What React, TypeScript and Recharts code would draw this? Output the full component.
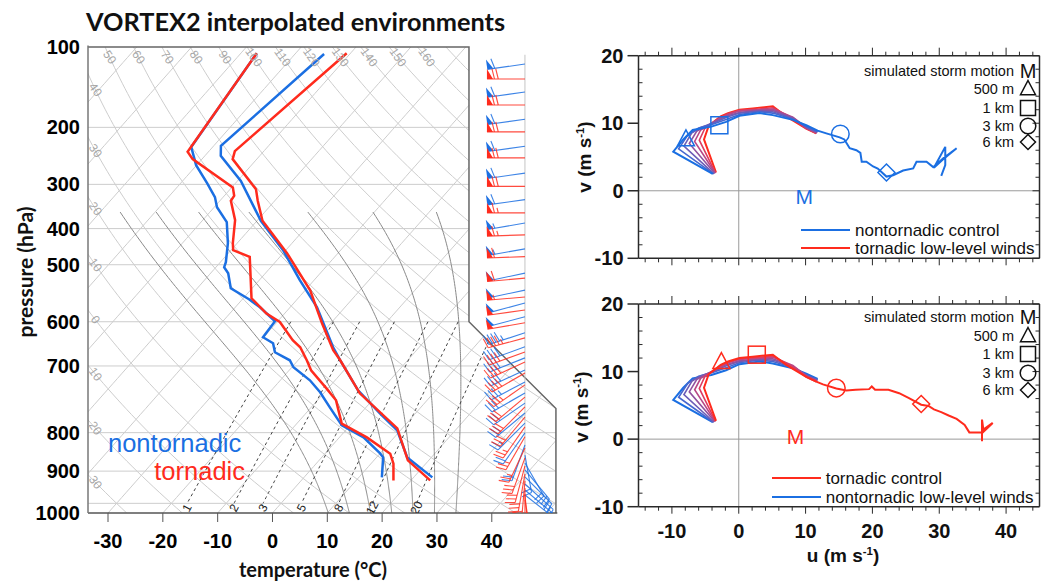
import React from 'react';
import { ComposedChart, Line, Scatter, XAxis, YAxis, ReferenceLine } from 'recharts';

// ===================== Skew-T sounding data (hPa, °C) =====================
const NT_T_P = [103.6, 164.6, 173.2, 196.5, 240.4, 278.8, 324.4, 371.8, 455.0, 485.9, 565.4, 635.0, 691.9, 793.0, 877.2];
const NT_T = [-64.7, -68.7, -67.1, -59.4, -49.3, -40.5, -32.6, -25.1, -15.7, -12.3, -4.2, 3.5, 9.4, 15.6, 23.4];
const NT_TD_P = [103.2, 165.7, 181.5, 198.7, 213.3, 224.4, 242.0, 269.1, 296.2, 303.8, 313.1, 337.8, 357.1, 371.8, 399.0, 432.6, 445.9, 466.7, 485.9, 503.4, 537.5, 571.1, 616.1, 674.7, 716.9, 777.2, 793.0, 877.2];
const NT_TD = [-77.1, -73.9, -70.1, -65.2, -61.5, -59.5, -55.3, -51.7, -49.0, -48.5, -46.8, -43.9, -38.8, -35.5, -30.5, -30.1, -27.3, -25.5, -21.5, -19.7, -14.6, -10.8, -6.6, -1.5, 4.4, 10.0, 11.2, 14.2];
const TOR_T_P = [103.2, 169.1, 176.1, 204.9, 217.3, 240.4, 283.0, 341.2, 403.1, 461.9, 485.9, 574.0, 685.0, 805.2, 890.7];
const TOR_T = [-60.7, -65.3, -64.4, -55.3, -53.1, -49.0, -39.3, -29.1, -21.6, -15.2, -12.3, -3.4, 9.1, 16.2, 23.5];
const TOR_TD_P = [103.2, 169.7, 176.1, 203.1, 211.9, 217.3, 239.6, 269.1, 278.8, 288.4, 355.3, 383.8, 400.5, 439.2, 455.0, 485.9, 511.1, 560.6, 594.7, 668.9, 716.9, 778.4, 818.7, 890.7];
const TOR_TD = [-77.1, -73.8, -71.7, -59.8, -58.2, -58.0, -54.1, -50.8, -49.6, -45.5, -38.5, -33.3, -29.5, -24.2, -21.7, -18.4, -16.0, -10.2, -6.6, -1.8, 5.0, 11.9, 14.1, 16.8];

// wind barbs: pressure (hPa), direction (deg, from), speed (kt)
const NT_BARB_P = [109, 125.5, 144, 165, 189, 216, 243, 277, 313, 341, 364, 390, 423, 454, 480, 510, 542, 573, 603, 634, 667, 701, 745, 784, 816, 845, 875, 907, 935, 959];
const NT_BARB_DIR = [262, 262, 262, 262, 262, 262, 260, 260, 258, 258, 255, 255, 252, 250, 248, 245, 242, 240, 235, 230, 225, 215, 200, 170, 150, 140, 135, 132, 130, 128];
const NT_BARB_SPD = [60, 60, 60, 60, 58, 58, 55, 55, 52, 50, 50, 48, 45, 42, 40, 38, 35, 32, 30, 28, 25, 22, 20, 18, 18, 20, 22, 22, 20, 18];
const TOR_BARB_P = [117.5, 134, 153.5, 175, 202, 231, 258, 288, 321, 353, 377, 402, 434, 466, 490, 518, 550, 585, 615, 647, 680, 715, 756, 795, 828, 862, 893, 925, 954, 983];
const TOR_BARB_DIR = [270, 270, 270, 270, 270, 270, 268, 268, 265, 265, 262, 260, 255, 250, 245, 240, 235, 230, 225, 220, 215, 210, 205, 200, 195, 190, 185, 180, 175, 170];
const TOR_BARB_SPD = [70, 70, 70, 70, 68, 65, 65, 62, 60, 55, 52, 50, 45, 42, 40, 38, 35, 32, 30, 28, 25, 25, 25, 28, 28, 30, 30, 28, 25, 22];

// diagram furniture
const T_TICKS = [-30, -20, -10, 0, 10, 20, 30, 40];
const P_TICK_AT = [100, 150, 200, 250, 300, 400, 500, 700, 850, 1050];
const P_TICK_LABELS = ['100', '200', '300', '400', '500', '600', '700', '800', '900', '1000'];
const P_GRID = [150, 200, 250, 300, 400, 500, 700, 850, 1000];
const ISOTHERMS = [-110, -100, -90, -80, -70, -60, -50, -40, -30, -20, -10, 0, 10, 20, 30, 40, 50];
const DRY_THETA = [-30, -20, -10, 0, 10, 20, 30, 40, 50, 60, 70, 80, 90, 100, 110, 120, 130, 140, 150, 160, 170, 180];
const DRY_TOP_LABELS = [50, 60, 70, 80, 90, 100, 110, 120, 130, 140, 150, 160];
const DRY_LEFT_LABELS = [40, 30, 20, 10, 0, -10, -20, -30];
const MOIST_THW = [8, 12, 16, 20, 24, 28, 32];
const MIX_W = [1, 2, 3, 5, 8, 12, 20];

// ===================== Hodograph data (m/s) =====================
const NT_LOW_U = [-3.9, -9.8, -8.3, -6.9, -4.1, -1.9, 0.1, 3.1, 5.1, 8.1, 10.1, 11.8];
const NT_LOW_V = [2.5, 5.8, 7.6, 9.0, 9.5, 10.2, 11.1, 11.5, 11.2, 10.5, 9.7, 8.9];
const NT_UP_U = [13.1, 15.1, 15.8, 16.6, 17.6, 18.2, 18.4, 19.1, 20.1, 20.8, 22.1, 23.1, 24.6, 26.1, 26.6, 28.1, 29.1, 30.6, 32.6, 30.5, 29.2, 30.9, 30.9, 30.3];
const NT_UP_V = [8.5, 7.9, 7.6, 6.3, 6.0, 5.6, 4.3, 4.3, 3.6, 3.3, 2.1, 2.3, 3.0, 3.3, 4.3, 4.3, 3.5, 4.8, 6.3, 4.6, 3.4, 6.5, 3.8, 2.2];
const TOR_LOW_U = [-3.4, -5.2, -4.5, -2.7, -1.6, 0.1, 2.1, 5.1, 7.1, 10.1, 11.6];
const TOR_LOW_V = [2.7, 7.6, 9.6, 11.0, 11.5, 12.0, 12.2, 12.5, 11.0, 9.2, 8.5];
const TOR_UP_U = [12.6, 14.6, 16.1, 17.5, 19.5, 19.9, 20.4, 22.4, 24.0, 25.4, 27.3, 28.4, 29.2, 30.3, 31.4, 32.6, 33.8, 34.5, 36.5, 38.0, 36.6, 36.4, 36.4];
const TOR_UP_V = [8.1, 7.5, 7.2, 7.3, 7.4, 7.8, 7.3, 7.3, 6.8, 6.1, 5.1, 4.9, 4.4, 4.0, 3.5, 3.0, 2.1, 1.0, 1.0, 2.4, 1.4, 2.9, -0.3];
const MIX1_U = [-3.8, -9.0, -7.6, -6.0, -3.8, -1.8, 0.1, 3.1, 5.1, 8.1, 10.4, 11.8];
const MIX1_V = [2.5, 6.2, 8.3, 9.3, 9.9, 10.6, 11.3, 11.7, 11.5, 10.6, 9.4, 8.8];
const MIX2_U = [-3.7, -8.2, -7.0, -5.6, -3.6, -1.8, 0.1, 3.1, 5.1, 8.1, 10.3, 11.8];
const MIX2_V = [2.5, 6.6, 8.6, 9.4, 10.1, 10.9, 11.5, 11.8, 11.7, 10.7, 9.3, 8.7];
const MIX3_U = [-3.6, -7.4, -6.3, -5.1, -3.3, -1.7, 0.1, 3.1, 5.1, 8.1, 10.2, 11.7];
const MIX3_V = [2.6, 7.0, 8.8, 9.5, 10.4, 11.1, 11.6, 11.9, 11.9, 10.8, 9.3, 8.6];
const MIX4_U = [-3.5, -6.6, -5.7, -4.8, -3.0, -1.6, 0.1, 3.1, 5.1, 8.1, 10.2, 11.7];
const MIX4_V = [2.6, 7.3, 9.0, 9.5, 10.6, 11.3, 11.8, 12.0, 12.1, 10.9, 9.3, 8.6];
const MIX5_U = [-3.5, -5.9, -5.1, -4.6, -2.9, -1.6, 0.1, 3.1, 5.1, 7.6, 10.1, 11.6];
const MIX5_V = [2.7, 7.5, 9.2, 9.6, 10.8, 11.4, 11.9, 12.1, 12.3, 11.0, 9.2, 8.5];
const NT_MARK_U = [-7.9, -2.9, 15.2, 22.1];
const NT_MARK_V = [7.6, 9.7, 8.4, 2.7];
const TOR_MARK_U = [-2.6, 2.7, 14.6, 27.3];
const TOR_MARK_V = [11.4, 12.5, 7.55, 5.2];
const MARK_LABELS = ['500 m', '1 km', '3 km', '6 km'];
const NT_STORM_U = [9.8];
const NT_STORM_V = [-0.9];
const TOR_STORM_U = [8.5];
const TOR_STORM_V = [0.35];
const U_TICKS = [-14, -12, -10, -8, -6, -4, -2, 0, 2, 4, 6, 8, 10, 12, 14, 16, 18, 20, 22, 24, 26, 28, 30, 32, 34, 36, 38, 40, 42, 44];
const V_TICKS = [-10, -8, -6, -4, -2, 0, 2, 4, 6, 8, 10, 12, 14, 16, 18, 20];

// ===================== styling / geometry =====================
const BLUE = '#1b6fe2';
const RED = '#ff2b1d';
const MIX_COLORS = ['#4767cf', '#6d5db7', '#92529f', '#b84887', '#dc3c62'];
const GRID = '#cdcdcd';
const FRAME = '#2a2a2a';
const FONT_TICK = "'Liberation Sans', Arial, sans-serif";
const FONT_TITLE = "Lato, 'Liberation Sans', sans-serif";
const MARK_KINDS = ['tri', 'sq', 'circ', 'dia'];

const SKEW = 32;
const P_TOP = 100;
const P_BOT = 1050;
const P_DOMAIN_TOP = 99.2;
const X_MIN = -33.65;
const X_DOMAIN_MAX = 51.95;
const X_FRAME_RIGHT = 51.7;
const X_FRAME_TOP = 35.84;
const NOTCH_P1 = 400;
const NOTCH_P2 = 620;
const BARB_X = 46.05;
const MOIST_TOP_P = 230;

const skewX = (T: number, p: number) => T + SKEW * Math.log(P_BOT / p);
const boundaryX = (p: number) => {
  if (p <= NOTCH_P1) return X_FRAME_TOP;
  if (p >= NOTCH_P2) return X_FRAME_RIGHT;
  const t = Math.log(p / NOTCH_P1) / Math.log(NOTCH_P2 / NOTCH_P1);
  return X_FRAME_TOP + t * (X_FRAME_RIGHT - X_FRAME_TOP);
};

function clipCurve(pts: { x: number; p: number }[]) {
  const out: any[] = [];
  let prevIn = false;
  pts.forEach((pt, i) => {
    const inside = pt.x <= boundaryX(pt.p);
    if (i > 0 && inside !== prevIn) {
      const a = pts[i - 1];
      const fa = a.x - boundaryX(a.p);
      const fb = pt.x - boundaryX(pt.p);
      const t = fa / (fa - fb);
      const lp = Math.log(a.p) + t * (Math.log(pt.p) - Math.log(a.p));
      out.push({ x: a.x + t * (pt.x - a.x), p: Math.exp(lp) });
      if (!inside) out.push({ x: null, p: null });
    }
    if (inside) out.push(pt);
    prevIn = inside;
  });
  return out;
}

const P_SAMPLES = (() => {
  const a: number[] = [];
  for (let i = 0; i <= 90; i++) a.push(P_TOP * Math.pow(P_BOT / P_TOP, i / 90));
  a.push(NOTCH_P1, NOTCH_P2, 1000);
  return a.sort((m, n) => m - n);
})();

const dryT = (th: number, p: number) => (th + 273.15) * Math.pow(p / 1000, 0.2857) - 273.15;
const esat = (Tc: number) => 6.112 * Math.exp((17.67 * Tc) / (Tc + 243.5));
const dTdp = (Tc: number, p: number) => {
  const T = Tc + 273.15;
  const e = esat(Tc);
  const r = (0.622 * e) / (p - e);
  return (287.04 * T + 2.501e6 * r) / (p * (1005.7 + (2.501e6 * 2.501e6 * r * 0.622) / (287.04 * T * T)));
};
const mixT = (w: number, p: number) => {
  const e = ((w / 1000) * p) / (0.622 + w / 1000);
  const l = Math.log(e / 6.112);
  return (243.5 * l) / (17.67 - l);
};

function moistCurve(thw: number) {
  const step = (T: number, p: number, dp: number) => {
    const k1 = dTdp(T, p);
    const k2 = dTdp(T + (k1 * dp) / 2, p + dp / 2);
    return T + k2 * dp;
  };
  const down: { T: number; p: number }[] = [];
  let T = thw;
  let p = 1000;
  while (p < P_BOT) {
    T = step(T, p, 5);
    p += 5;
    down.push({ T, p });
  }
  const up: { T: number; p: number }[] = [{ T: thw, p: 1000 }];
  T = thw;
  p = 1000;
  while (p > MOIST_TOP_P) {
    T = step(T, p, -5);
    p -= 5;
    up.push({ T, p });
  }
  return [...down.reverse(), ...up].map((d) => ({ x: skewX(d.T, d.p), p: d.p }));
}

const isothermLines = ISOTHERMS.map((T) => clipCurve(P_SAMPLES.map((p) => ({ x: skewX(T, p), p }))));
const dryLines = DRY_THETA.map((th) => clipCurve(P_SAMPLES.map((p) => ({ x: skewX(dryT(th, p), p), p }))));
const moistLines = MOIST_THW.map((thw) => clipCurve(moistCurve(thw)));
const mixLines = MIX_W.map((w) =>
  clipCurve(P_SAMPLES.filter((p) => p >= 400 && p <= 1000).map((p) => ({ x: skewX(mixT(w, p), p), p })))
);
const isobarLines = P_GRID.map((p) => [{ x: X_MIN - 2, p }, { x: boundaryX(p), p }]);
const frameLine = [
  { x: X_MIN, p: P_TOP },
  { x: X_FRAME_TOP, p: P_TOP },
  { x: X_FRAME_TOP, p: NOTCH_P1 },
  { x: X_FRAME_RIGHT, p: NOTCH_P2 },
  { x: X_FRAME_RIGHT, p: P_BOT },
];
const barbAxis = [{ x: BARB_X, p: 104 }, { x: BARB_X, p: 905 }];

const dryTopLabelData = DRY_TOP_LABELS.map((th) => ({ x: skewX(dryT(th, 105.3), 105.3), p: 105.3, label: String(th) }));
const dryLeftLabelData = DRY_LEFT_LABELS.map((th) => {
  let lo = Math.log(P_TOP);
  let hi = Math.log(P_BOT);
  const target = X_MIN + 1.35;
  for (let i = 0; i < 40; i++) {
    const mid = (lo + hi) / 2;
    const pm = Math.exp(mid);
    if (skewX(dryT(th, pm), pm) < target) lo = mid;
    else hi = mid;
  }
  const pp = Math.exp((lo + hi) / 2);
  return { x: target, p: pp, label: String(Math.abs(th)) };
});
const mixLabelData = MIX_W.map((w) => ({ x: skewX(mixT(w, 1000), 1000), p: 1023, label: String(w) }));

const profile = (ps: number[], ts: number[]) => ps.map((p, i) => ({ x: skewX(ts[i], p), p }));
const barbData = (ps: number[], dirs: number[], spds: number[]) => ps.map((p, i) => ({ x: BARB_X, p, dir: dirs[i], spd: spds[i] }));

function Barb(props: any) {
  const { cx, cy, payload, color } = props;
  if (cx == null || cy == null) return null;
  const L = 38;
  const F = 10;
  const W = 6;
  const G = 3.8;
  const r = (payload.dir * Math.PI) / 180;
  const dx = Math.sin(r);
  const dy = -Math.cos(r);
  const nx = -dy;
  const ny = dx;
  const tx = cx + dx * L;
  const ty = cy + dy * L;
  const at = (s: number) => [tx - dx * s, ty - dy * s];
  const parts: any[] = [];
  let spd = Math.round(payload.spd / 5) * 5;
  let s = 0;
  let k = 0;
  while (spd >= 50) {
    const [ax, ay] = at(s);
    const [bx, by] = at(s + W);
    parts.push(<polygon key={k++} points={`${ax},${ay} ${ax + nx * F},${ay + ny * F} ${bx},${by}`} stroke="none" />);
    s += W + 1.5;
    spd -= 50;
  }
  while (spd >= 10) {
    const [ax, ay] = at(s);
    parts.push(<line key={k++} x1={ax} y1={ay} x2={ax + nx * F + dx * 2.5} y2={ay + ny * F + dy * 2.5} />);
    s += G;
    spd -= 10;
  }
  if (spd >= 5) {
    if (s === 0) s = G;
    const [ax, ay] = at(s);
    parts.push(<line key={k++} x1={ax} y1={ay} x2={ax + (nx * F + dx * 2.5) * 0.5} y2={ay + (ny * F + dy * 2.5) * 0.5} />);
  }
  return (
    <g stroke={color} fill={color} strokeWidth={1.1} strokeOpacity={0.85}>
      <line x1={cx} y1={cy} x2={tx} y2={ty} />
      {parts}
    </g>
  );
}

const lineProps = { dot: false, activeDot: false, isAnimationActive: false, legendType: 'none' as const };

function SkewT() {
  return (
    <ComposedChart width={570} height={582} margin={{ top: 45.4, right: 12.7, bottom: 39, left: 8 }}>
      <XAxis
        dataKey="x"
        type="number"
        domain={[X_MIN, X_DOMAIN_MAX]}
        allowDataOverflow
        ticks={T_TICKS}
        interval={0}
        tickSize={9}
        tickMargin={12}
        height={30}
        axisLine={{ stroke: '#555', strokeWidth: 1.5 }}
        tickLine={{ stroke: '#555' }}
        tick={{ fill: '#000', fontSize: 20, fontWeight: 'bold', fontFamily: FONT_TICK }}
      />
      <YAxis
        dataKey="p"
        type="number"
        scale="log"
        domain={[P_DOMAIN_TOP, P_BOT]}
        reversed
        allowDataOverflow
        ticks={P_TICK_AT}
        interval={0}
        width={80}
        tickLine={false}
        axisLine={{ stroke: '#777', strokeWidth: 1.5 }}
        tickFormatter={(v: number) => P_TICK_LABELS[P_TICK_AT.indexOf(v)]}
        tick={{ fill: '#000', fontSize: 20, fontWeight: 'bold', fontFamily: FONT_TICK }}
      />
      {isobarLines.map((d, i) => (
        <Line key={'ib' + i} data={d} dataKey="p" stroke={GRID} strokeWidth={1} {...lineProps} />
      ))}
      {isothermLines.map((d, i) => (
        <Line key={'it' + i} data={d} dataKey="p" stroke={GRID} strokeWidth={1} {...lineProps} />
      ))}
      {dryLines.map((d, i) => (
        <Line key={'dr' + i} data={d} dataKey="p" stroke={GRID} strokeWidth={1} {...lineProps} />
      ))}
      {moistLines.map((d, i) => (
        <Line key={'mo' + i} data={d} dataKey="p" stroke="#8a8a8a" strokeWidth={1} {...lineProps} />
      ))}
      {mixLines.map((d, i) => (
        <Line key={'mx' + i} data={d} dataKey="p" stroke="#444" strokeWidth={1} strokeDasharray="3 3" {...lineProps} />
      ))}
      <Line data={frameLine} dataKey="p" stroke="#666" strokeWidth={1.5} {...lineProps} />
      <Line data={barbAxis} dataKey="p" stroke="#c4c4c4" strokeWidth={1} {...lineProps} />
      <Line data={profile(NT_TD_P, NT_TD)} dataKey="p" stroke={BLUE} strokeWidth={2.5} {...lineProps} />
      <Line data={profile(TOR_TD_P, TOR_TD)} dataKey="p" stroke={RED} strokeWidth={2.5} {...lineProps} />
      <Line data={profile(NT_T_P, NT_T)} dataKey="p" stroke={BLUE} strokeWidth={2.5} {...lineProps} />
      <Line data={profile(TOR_T_P, TOR_T)} dataKey="p" stroke={RED} strokeWidth={2.5} {...lineProps} />
      <Scatter
        data={[...dryTopLabelData, ...dryLeftLabelData]}
        isAnimationActive={false}
        shape={(pr: any) => (
          <text
            x={pr.cx}
            y={pr.cy}
            transform={`rotate(55 ${pr.cx} ${pr.cy})`}
            textAnchor="middle"
            dominantBaseline="central"
            fontSize={12}
            fill="#a8a8a8"
            fontFamily={FONT_TICK}
          >
            {pr.payload.label}
          </text>
        )}
      />
      <Scatter
        data={mixLabelData}
        isAnimationActive={false}
        shape={(pr: any) => (
          <text
            x={pr.cx}
            y={pr.cy}
            transform={`rotate(-62 ${pr.cx} ${pr.cy})`}
            textAnchor="middle"
            dominantBaseline="central"
            fontSize={12}
            fill="#222"
            fontFamily={FONT_TICK}
          >
            {pr.payload.label}
          </text>
        )}
      />
      <Scatter data={barbData(NT_BARB_P, NT_BARB_DIR, NT_BARB_SPD)} isAnimationActive={false} shape={(pr: any) => <Barb {...pr} color={BLUE} />} />
      <Scatter data={barbData(TOR_BARB_P, TOR_BARB_DIR, TOR_BARB_SPD)} isAnimationActive={false} shape={(pr: any) => <Barb {...pr} color={RED} />} />
    </ComposedChart>
  );
}

// ===================== Hodographs =====================
const zip = (us: number[], vs: number[]) => us.map((u, i) => ({ u, v: vs[i] }));
const MIX_SETS = [zip(MIX1_U, MIX1_V), zip(MIX2_U, MIX2_V), zip(MIX3_U, MIX3_V), zip(MIX4_U, MIX4_V), zip(MIX5_U, MIX5_V)];
const marks = (us: number[], vs: number[]) => us.map((u, i) => ({ u, v: vs[i], kind: MARK_KINDS[i] }));

function MarkShape({ cx, cy, kind, color, size = 8.5 }: any) {
  const common = { fill: 'none', stroke: color, strokeWidth: 1.5 };
  if (kind === 'tri') return <path d={`M${cx},${cy - size - 1} L${cx + size},${cy + size * 0.75} L${cx - size},${cy + size * 0.75} Z`} {...common} />;
  if (kind === 'sq') return <rect x={cx - size} y={cy - size} width={size * 2} height={size * 2} {...common} />;
  if (kind === 'circ') return <circle cx={cx} cy={cy} r={size + 0.3} {...common} />;
  return <path d={`M${cx},${cy - size} L${cx + size},${cy} L${cx},${cy + size} L${cx - size},${cy} Z`} {...common} />;
}

const tickText = { fontFamily: FONT_TICK, fontWeight: 'bold' as const, fontSize: 20, fill: '#111' };

const leftTick = (pr: any) => {
  const { x, y, payload } = pr;
  const major = payload.value % 10 === 0;
  return (
    <g>
      {major ? (
        <line x1={x - 11} x2={x} y1={y} y2={y} stroke={FRAME} strokeWidth={1.5} />
      ) : (
        <line x1={x} x2={x + 4} y1={y} y2={y} stroke={FRAME} strokeWidth={1} />
      )}
      {major && (
        <text x={x - 15} y={y} textAnchor="end" dominantBaseline="central" {...tickText}>
          {payload.value}
        </text>
      )}
    </g>
  );
};
const rightTick = (pr: any) => {
  const { x, y, payload } = pr;
  const major = payload.value % 10 === 0;
  return <line x1={x - (major ? 7 : 4)} x2={x} y1={y} y2={y} stroke={FRAME} strokeWidth={1} />;
};
const topTick = (pr: any) => {
  const { x, y, payload } = pr;
  const major = payload.value % 10 === 0;
  return <line x1={x} x2={x} y1={y} y2={y - (major ? 8 : 4)} stroke={FRAME} strokeWidth={1} />;
};
const bottomTick = (showLabels: boolean) => (pr: any) => {
  const { x, y, payload } = pr;
  const major = payload.value % 10 === 0;
  return (
    <g>
      <line x1={x} x2={x} y1={y} y2={y + (major ? 7 : 4)} stroke={FRAME} strokeWidth={1} />
      {showLabels && major && (
        <text x={x} y={y + 24} textAnchor="middle" dominantBaseline="central" {...tickText}>
          {payload.value}
        </text>
      )}
    </g>
  );
};

function Hodo({ height, mTop, mBottom, showU, lines, markData, markColor, stormU, stormV, stormColor }: any) {
  const axisLine = { stroke: FRAME, strokeWidth: 1.5 };
  return (
    <ComposedChart width={486} height={height} margin={{ top: mTop - 1, right: 5.5, bottom: mBottom - 1, left: 8.5 }}>
      <XAxis dataKey="u" type="number" domain={[-15, 45]} allowDataOverflow ticks={U_TICKS} interval={0} tickSize={0} tickMargin={0} height={1} axisLine={axisLine} tickLine={false} tick={bottomTick(showU)} />
      <XAxis xAxisId="top" orientation="top" dataKey="u" type="number" domain={[-15, 45]} allowDataOverflow ticks={U_TICKS} interval={0} tickSize={0} tickMargin={0} height={1} axisLine={axisLine} tickLine={false} tick={topTick} />
      <YAxis dataKey="v" type="number" domain={[-10, 20]} allowDataOverflow ticks={V_TICKS} interval={0} tickSize={0} tickMargin={0} width={70} axisLine={axisLine} tickLine={false} tick={leftTick} />
      <YAxis yAxisId="right" orientation="right" dataKey="v" type="number" domain={[-10, 20]} allowDataOverflow ticks={V_TICKS} interval={0} tickSize={0} tickMargin={0} width={1} axisLine={axisLine} tickLine={false} tick={rightTick} />
      <ReferenceLine x={0} stroke="#9a9a9a" strokeWidth={1} />
      <ReferenceLine y={0} stroke="#9a9a9a" strokeWidth={1} />
      {lines.map((l: any, i: number) => (
        <Line key={'h' + i} data={l.data} dataKey="v" stroke={l.color} strokeWidth={l.width} {...lineProps} />
      ))}
      <Scatter
        data={markData}
        isAnimationActive={false}
        shape={(pr: any) => <MarkShape cx={pr.cx} cy={pr.cy} kind={pr.payload.kind} color={markColor} />}
      />
      <Scatter
        data={zip(stormU, stormV)}
        isAnimationActive={false}
        shape={(pr: any) => (
          <text x={pr.cx} y={pr.cy} textAnchor="middle" dominantBaseline="central" fontFamily={FONT_TICK} fontSize={21} fill={stormColor}>
            M
          </text>
        )}
      />
    </ComposedChart>
  );
}

// ===================== HTML text helpers =====================
function T({ x, y, anchor = 'start', rotate = 0, style = {}, children }: any) {
  const tx = anchor === 'middle' ? '-50%' : anchor === 'end' ? '-100%' : '0';
  return (
    <div
      style={{
        position: 'absolute',
        left: x,
        top: y,
        transform: `translate(${tx}, -50%)${rotate ? ` rotate(${rotate}deg)` : ''}`,
        whiteSpace: 'nowrap',
        lineHeight: 1,
        ...style,
      }}
    >
      {children}
    </div>
  );
}

function LegendSymbol({ kind }: any) {
  if (kind === 'M') return <span style={{ fontFamily: FONT_TICK, fontSize: 20, color: '#111' }}>M</span>;
  return (
    <svg width={20} height={20} style={{ display: 'block' }}>
      <MarkShape cx={10} cy={10} kind={kind} color="#111" size={7.5} />
    </svg>
  );
}

function HodoLegend({ ys }: any) {
  const labels = ['simulated storm motion', ...MARK_LABELS];
  const kinds = ['M', ...MARK_KINDS];
  return (
    <>
      {labels.map((lab, i) => (
        <React.Fragment key={lab}>
          <T x={1014} y={ys[i]} anchor="end" style={{ fontFamily: FONT_TICK, fontSize: 14.5, color: '#111' }}>
            {lab}
          </T>
          <T x={1028} y={ys[i]} anchor="middle">
            <LegendSymbol kind={kinds[i]} />
          </T>
        </React.Fragment>
      ))}
    </>
  );
}

function LineLegend({ x1, x2, rows }: any) {
  return (
    <>
      {rows.map((r: any) => (
        <React.Fragment key={r.text}>
          <div style={{ position: 'absolute', left: x1, top: r.y - 1, width: x2 - x1, height: 2, background: r.color }} />
          <T x={x2 + 5} y={r.y} style={{ fontFamily: FONT_TICK, fontSize: 17, color: '#111' }}>
            {r.text}
          </T>
        </React.Fragment>
      ))}
    </>
  );
}

const unitLabel = (c: string) => (
  <span>
    {c} (m s<sup style={{ fontSize: '0.6em', verticalAlign: '0.55em' }}>-1</sup>)
  </span>
);

export default function App() {
  const ntFull = [...zip(NT_LOW_U, NT_LOW_V), ...zip(NT_UP_U, NT_UP_V)];
  const torFull = [...zip(TOR_LOW_U, TOR_LOW_V), ...zip(TOR_UP_U, TOR_UP_V)];
  const topLines = [
    { data: zip(TOR_LOW_U, TOR_LOW_V), color: RED, width: 2 },
    ...MIX_SETS.map((d, i) => ({ data: d, color: MIX_COLORS[i], width: 1.6 })).reverse(),
    { data: ntFull, color: BLUE, width: 2 },
  ];
  const bottomLines = [
    { data: zip(NT_LOW_U, NT_LOW_V), color: BLUE, width: 2 },
    ...MIX_SETS.map((d, i) => ({ data: d, color: MIX_COLORS[i], width: 1.6 })),
    { data: torFull, color: RED, width: 2 },
  ];
  const axisTitle = { fontFamily: FONT_TICK, fontWeight: 'bold' as const, fontSize: 19, color: '#111' };
  return (
    <div style={{ position: 'absolute', left: 0, top: 0, width: 1046, height: 582, background: '#fff', overflow: 'hidden' }}>
      <div style={{ position: 'absolute', left: 0, top: 0 }}>
        <SkewT />
      </div>
      <div style={{ position: 'absolute', left: 560, top: 0 }}>
        <Hodo height={275} mTop={55.7} mBottom={16.7} showU={false} lines={topLines} markData={marks(NT_MARK_U, NT_MARK_V)} markColor={BLUE} stormU={NT_STORM_U} stormV={NT_STORM_V} stormColor={BLUE} />
      </div>
      <div style={{ position: 'absolute', left: 560, top: 280 }}>
        <Hodo height={302} mTop={24} mBottom={75.3} showU={true} lines={bottomLines} markData={marks(TOR_MARK_U, TOR_MARK_V)} markColor={RED} stormU={TOR_STORM_U} stormV={TOR_STORM_V} stormColor={RED} />
      </div>

      <T x={86} y={22} style={{ fontFamily: FONT_TITLE, fontWeight: 'bold', fontSize: 25.3, color: '#111' }}>
        VORTEX2 interpolated environments
      </T>
      <T x={24} y={272} anchor="middle" rotate={-90} style={{ fontFamily: FONT_TITLE, fontWeight: 'bold', fontSize: 21, color: '#111' }}>
        pressure (hPa)
      </T>
      <T x={313} y={569} anchor="middle" style={{ fontFamily: FONT_TITLE, fontWeight: 'bold', fontSize: 20, color: '#111' }}>
        temperature (°C)
      </T>
      <T x={108} y={444} style={{ fontFamily: FONT_TICK, fontSize: 25.5, color: BLUE }}>
        nontornadic
      </T>
      <T x={245} y={472} anchor="end" style={{ fontFamily: FONT_TICK, fontSize: 25.5, color: RED }}>
        tornadic
      </T>

      <T x={584} y={157} anchor="middle" rotate={-90} style={axisTitle}>
        {unitLabel('v')}
      </T>
      <T x={581} y={406.7} anchor="middle" rotate={-90} style={axisTitle}>
        {unitLabel('v')}
      </T>
      <T x={843} y={555} anchor="middle" style={axisTitle}>
        {unitLabel('u')}
      </T>

      <HodoLegend ys={[70.7, 89.3, 107.7, 126, 141.7]} />
      <HodoLegend ys={[316.7, 335.7, 354.3, 373.3, 390]} />
      <LineLegend
        x1={800.7}
        x2={850}
        rows={[
          { y: 230, color: BLUE, text: 'nontornadic control' },
          { y: 248.3, color: RED, text: 'tornadic low-level winds' },
        ]}
      />
      <LineLegend
        x1={771.7}
        x2={820.7}
        rows={[
          { y: 478.3, color: RED, text: 'tornadic control' },
          { y: 496.7, color: BLUE, text: 'nontornadic low-level winds' },
        ]}
      />
    </div>
  );
}
